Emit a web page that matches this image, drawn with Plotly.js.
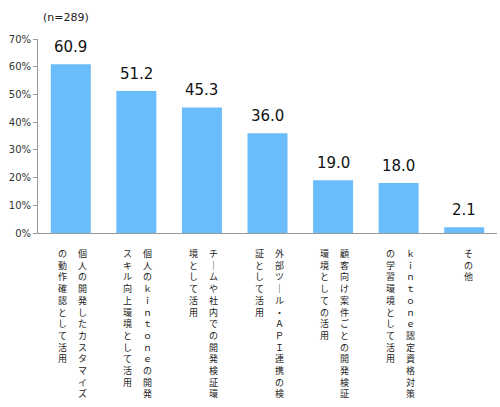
<!DOCTYPE html>
<html>
<head>
<meta charset="utf-8">
<script src="https://cdn.plot.ly/plotly-3.0.1.min.js"></script>
<style>
  html, body { margin: 0; padding: 0; background: #fff; }
  #chart { width: 500px; height: 407px; }
</style>
</head>
<body>
<div id="chart"></div>
<script>
// 回答項目 (全角英字は縦書き表示のまま)
const labels = [
  '個人の開発したカスタマイズの動作確認として活用',
  '個人のｋｉｎｔｏｎｅの開発スキル向上環境として活用',
  'チームや社内での開発検証環境として活用',
  '外部ツール・ＡＰＩ連携の検証として活用',
  '顧客向け案件ごとの開発検証環境としての活用',
  'ｋｉｎｔｏｎｅ認定資格対策の学習環境として活用',
  'その他'
]
const values = [60.9, 51.2, 45.3, 36.0, 19.0, 18.0, 2.1]
const yTicks = [0, 10, 20, 30, 40, 50, 60, 70]
const sampleNote = '(n=289)'

const charsPerCol = 13

const xs = labels.map((_, i) => i)

const annotations = []

// 値ラベル
values.forEach((v, i) => {
  annotations.push({
    x: i, y: v, xref: 'x', yref: 'y',
    text: v.toFixed(1),
    showarrow: false,
    yanchor: 'bottom',
    yshift: 6,
    font: { family: 'DejaVu Sans, sans-serif', size: 15, color: '#111' }
  })
})

// 縦書きラベル: 1列 = 1注釈 (1文字ずつ改行)、右の列から左へ
labels.forEach((lab, i) => {
  const chars = Array.from(lab).map(ch => ch === 'ー' ? '｜' : ch)
  const cols = []
  for (let k = 0; k < chars.length; k += charsPerCol) cols.push(chars.slice(k, k + charsPerCol))
  cols.forEach((col, c) => {
    const dx = cols.length === 1 ? 4 : 11.5 - c * 20
    annotations.push({
      x: i, y: 0, xref: 'x', yref: 'paper',
      text: col.join('<br>'),
      showarrow: false,
      xanchor: 'center', yanchor: 'top',
      xshift: dx,
      yshift: -12,
      font: { family: 'Noto Sans CJK JP, sans-serif', size: 9, color: '#222' }
    })
  })
})

annotations.push({
  x: 0.006, y: 1, xref: 'paper', yref: 'paper',
  text: sampleNote,
  showarrow: false,
  xanchor: 'left', yanchor: 'middle',
  yshift: 22,
  font: { family: 'DejaVu Sans, sans-serif', size: 11, color: '#222' }
})

const trace = {
  type: 'bar',
  x: xs,
  y: values,
  marker: { color: '#6bbcfa', line: { width: 0 } },
  hoverinfo: 'skip'
}

const layout = {
  width: 500,
  height: 407,
  margin: { l: 38, r: 3, t: 39, b: 174 },
  paper_bgcolor: '#fff',
  plot_bgcolor: '#fff',
  showlegend: false,
  bargap: 0.39,
  xaxis: {
    range: [-0.5, labels.length - 0.5],
    showticklabels: false,
    ticks: '',
    showgrid: false,
    zeroline: false,
    showline: true,
    linecolor: '#999',
    linewidth: 1
  },
  yaxis: {
    range: [0, 70],
    tickvals: yTicks,
    ticktext: yTicks.map(t => t + '%'),
    ticks: 'outside',
    ticklen: 4,
    tickcolor: '#999',
    showgrid: false,
    zeroline: false,
    showline: true,
    linecolor: '#999',
    linewidth: 1,
    tickfont: { family: 'DejaVu Sans, sans-serif', size: 10, color: '#333' }
  },
  annotations: annotations
}

Plotly.newPlot('chart', [trace], layout, { displayModeBar: false, staticPlot: true })
</script>
</body>
</html>
